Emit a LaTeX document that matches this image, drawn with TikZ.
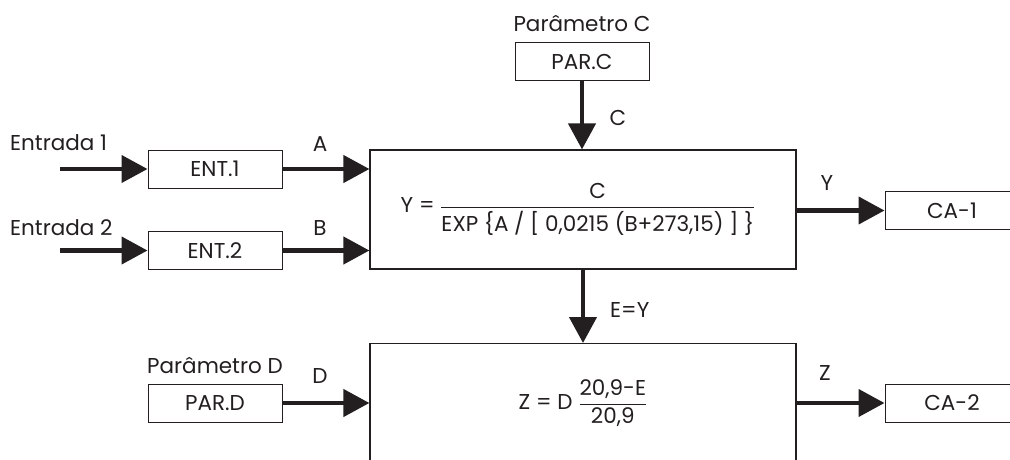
\documentclass[tikz,border=0pt]{standalone}
\usepackage{amsmath}
\usepackage{fontspec}
\setmainfont{Poppins}
\usetikzlibrary{arrows.meta}
\definecolor{ink}{HTML}{231F20}
\begin{document}
\begin{tikzpicture}[x=1pt,y=-1pt,
  font=\fontsize{21.5}{25}\selectfont, color=ink,
  box/.style={draw=ink, line width=1pt, minimum width=134pt, minimum height=38pt, inner sep=0pt},
  big/.style={draw=ink, line width=1.2pt, minimum width=426pt, minimum height=119pt, inner sep=0pt},
  flow/.style={draw=ink, line width=4.3pt, -{Triangle[length=26pt,width=27pt]}},
  lbl/.style={anchor=base, inner sep=0pt}]
\useasboundingbox (0,0) rectangle (1010,459);
% boxes
\node[box] (ent1) at (215,169) {ENT.1};
\node[box] (ent2) at (215,250.5) {ENT.2};
\node[box] (parc) at (582,61.5) {PAR.C};
\node[box] (pard) at (215,403) {PAR.D};
\node[box] (ca1) at (952,210.5) {CA-1};
\node[box] (ca2) at (952,403) {CA-2};
\node[big] (eqy) at (583,209.5)
  {\hspace*{-10pt}$\text{Y = }\genfrac{}{}{1pt}{0}{\text{C}}{\text{EXP \{A / [ 0,0215 (B+273,15) ] \}}}$};
\node[big, anchor=north] (eqz) at (583,343)
  {$\text{Z = D }\genfrac{}{}{1pt}{0}{\text{20,9-E}}{\text{20,9}}$};
% labels
\node[lbl, anchor=base west] (t1) at (10,150) {Entrada 1};
\node[lbl, anchor=base west] (t2) at (10,235) {Entrada 2};
\node[lbl] (tc) at (582,31) {Parâmetro C};
\node[lbl] (td) at (215,373) {Parâmetro D};
\node[lbl] (la) at (320,151) {A};
\node[lbl] (lb) at (320,235) {B};
\node[lbl] (lc) at (618,125) {C};
\node[lbl] (ly) at (827,190) {Y};
\node[lbl, anchor=base west] (le) at (610,317) {E=Y};
\node[lbl] (ld) at (320,383) {D};
\node[lbl] (lz) at (825,380) {Z};
% free ends
\coordinate (s1) at (60,169);
\coordinate (s2) at (60,250.5);
% connectors
\draw[flow] (s1) -- (ent1.west);
\draw[flow] (s2) -- (ent2.west);
\draw[flow] (ent1.east) -- (eqy.west |- ent1.east);
\draw[flow] (ent2.east) -- (eqy.west |- ent2.east);
\draw[flow] (parc.south) -- (parc.south |- eqy.north);
\draw[flow] (eqy.east |- ca1.west) -- (ca1.west);
\draw[flow] (eqy.south) -- (eqz.north);
\draw[flow] (pard.east) -- (eqz.west |- pard.east);
\draw[flow] (eqz.east |- ca2.west) -- (ca2.west);
\end{tikzpicture}
\end{document}
